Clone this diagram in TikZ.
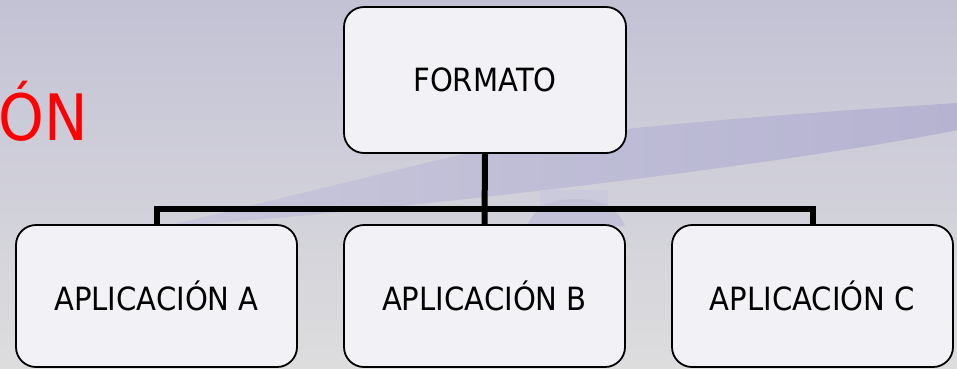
\documentclass[tikz,border=0pt]{standalone}
\usepackage{fontspec}
\setmainfont{DejaVu Sans}[FakeStretch=0.91]
\begin{document}
\begin{tikzpicture}[x=1pt,y=-1pt,
  box/.style={draw=black,line width=1.8pt,fill=boxfill,rounded corners=20pt,
    inner sep=0pt,font=\fontsize{32}{38}\selectfont},
  conn/.style={draw=black,line width=6pt}]
\definecolor{bgtop}{HTML}{C3C2D5}
\definecolor{bgbot}{HTML}{DDDDDE}
\definecolor{wedgeL}{HTML}{C8C7DB}
\definecolor{wedgeR}{HTML}{B5B3D1}
\definecolor{rectc}{HTML}{CBCADC}
\definecolor{domec}{HTML}{C2C1D8}
\definecolor{boxfill}{HTML}{F1F1F6}
\definecolor{titlered}{HTML}{FF0000}
\useasboundingbox (0,0) rectangle (957,368);
% background
\shade[top color=bgtop,bottom color=bgbot] (0,0) rectangle (957,368);
% decorative wedge
\shade[left color=wedgeL,right color=wedgeR]
  (162,227) -- (467,153) .. controls (567,130) and (757,116) .. (957,103)
  -- (957,130) .. controls (807,161) and (412,210) .. (162,227) -- cycle;
\fill[rectc] (540,190) rectangle (608,226);
\fill[domec] (527,226) .. controls (535,205) and (555,199) .. (576,199)
  .. controls (597,199) and (617,205) .. (625,226) -- cycle;
% red title fragment
\node[anchor=base east,inner sep=0pt,text=titlered,font=\fontsize{64}{70}\selectfont] (title) at (88,140) {ÓN};
% boxes
\node[box,minimum width=282pt,minimum height=146pt] (F) at (485,80) {FORMATO};
\node[box,minimum width=281pt,minimum height=142pt] (A) at (156.5,296) {APLICACIÓN A};
\node[box,minimum width=281pt,minimum height=142pt] (B) at (484.5,296) {APLICACIÓN B};
\node[box,minimum width=281pt,minimum height=142pt] (C) at (812.5,296) {APLICACIÓN C};
% connectors
\draw[conn] (A.north) -- ++(0,-15) -| (C.north);
\draw[conn] (F.south) -- (B.north);
\end{tikzpicture}
\end{document}
